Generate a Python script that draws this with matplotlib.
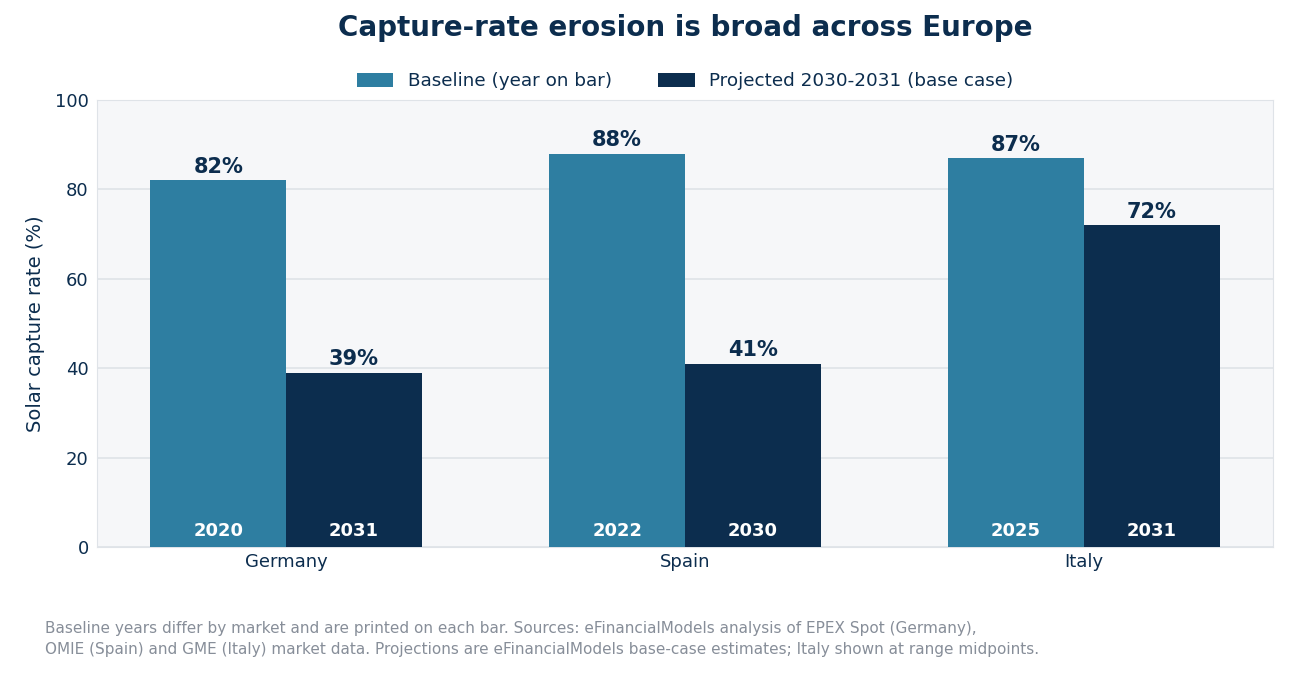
import numpy as np
from matplotlib import pyplot as plt

# Chart data.
markets = ['Germany', 'Spain', 'Italy']
baseline = [82, 88, 87]
projected = [39, 41, 72]
baseline_years = ['2020', '2022', '2025']
projected_years = ['2031', '2030', '2031']

navy = '#0c2d4e'
teal = '#2e7ea1'
grey_text = '#878e99'

fig = plt.figure(dpi=100, figsize=(12.99, 6.88))
ax = fig.add_axes([97 / 1299, 1 - 547 / 688, (1273 - 97) / 1299, (547 - 100) / 688])
ax.set_facecolor('#f6f7f9')

x = np.arange(len(markets))
w = 0.34
b1 = ax.bar(x - w / 2, baseline, w, color=teal, label='Baseline (year on bar)', zorder=3)
b2 = ax.bar(x + w / 2, projected, w, color=navy, label='Projected 2030-2031 (base case)', zorder=3)

for bars, vals, years in ((b1, baseline, baseline_years), (b2, projected, projected_years)):
    for bar, v, yr in zip(bars, vals, years):
        cx = bar.get_x() + bar.get_width() / 2
        ax.annotate(f'{v}%', (cx, v), xytext=(0, 2.5), textcoords='offset points',
                    ha='center', va='bottom', fontsize=15, fontweight='bold', color=navy)
        ax.annotate(yr, (cx, 0), xytext=(0, 5), textcoords='offset points',
                    ha='center', va='bottom', fontsize=13, fontweight='bold', color='white')

ax.set_ylim(0, 100)
ax.set_xticks(x)
ax.set_xticklabels(markets)
ax.set_yticks([0, 20, 40, 60, 80, 100])
ax.grid(axis='y', color='#dfe3e8', linewidth=1.2, zorder=0)
ax.set_axisbelow(True)
for s in ax.spines.values():
    s.set_color('#dfe3e8')
ax.tick_params(axis='both', length=0, labelsize=13, colors=navy, pad=6)
ax.tick_params(axis='x', pad=4)
ax.set_ylabel('Solar capture rate (%)', fontsize=14, color=navy, labelpad=7)

fig.text(685 / 1299, 1 - 28 / 688, 'Capture-rate erosion is broad across Europe', ha='center', va='center',
         fontsize=20, fontweight='bold', color=navy)
fig.legend(handles=[b1, b2], loc='center', bbox_to_anchor=(685 / 1299, 1 - 81 / 688), ncol=2,
           frameon=False, fontsize=13.2, labelcolor=navy, handlelength=2.0, handleheight=0.8,
           columnspacing=2.5)

fig.text(45 / 1299, 1 - 639 / 688,
         'Baseline years differ by market and are printed on each bar. Sources: eFinancialModels analysis of EPEX Spot (Germany),\n'
         'OMIE (Spain) and GME (Italy) market data. Projections are eFinancialModels base-case estimates; Italy shown at range midpoints.',
         ha='left', va='center', fontsize=11, color=grey_text, linespacing=1.5)

fig.savefig('out.png', dpi=100)
